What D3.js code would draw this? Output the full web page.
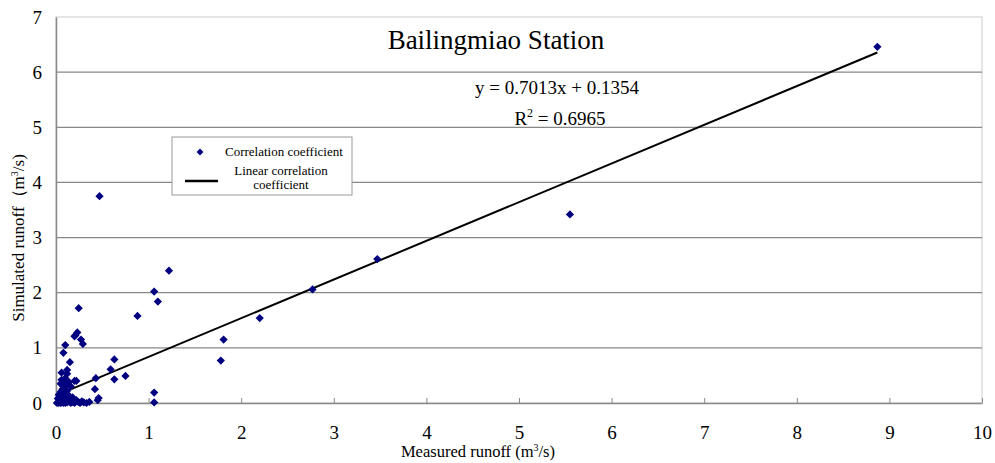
<!DOCTYPE html>
<html>
<head>
<meta charset="utf-8">
<script src="https://cdn.jsdelivr.net/npm/d3@7"></script>
<style>
	body{margin:0;background:#fff;}
	svg text{font-family:"Liberation Serif","Times New Roman","DejaVu Serif",serif;fill:#000;}
</style>
</head>
<body>
<svg id="chart" width="995" height="463"></svg>
<script>
// measured runoff (m3/s) and simulated runoff (m3/s)
var measured = [
	0.01,0.02,0.03,0.04,0.05,0.06,0.07,0.08,0.09,0.10,0.12,0.14,0.16,0.18,0.20,0.22,0.24,0.26,0.28,0.30,0.33,0.36,
	0.02,0.03,0.04,0.05,0.06,0.07,0.08,0.05,0.09,0.10,0.06,0.11,0.12,0.13,0.14,0.16,0.18,0.20,0.22,0.15,0.10,0.08,0.04,0.06,
	0.12,0.12,0.15,0.08,0.10,0.21,0.23,0.20,0.27,0.29,0.245,0.47,
	0.88,0.63,0.59,0.63,0.75,0.43,0.42,0.46,0.45,
	1.06,1.06,1.06,1.10,1.22,1.78,1.81,2.20,2.77,3.47,5.55,8.87
];
var simulated = [
	0.00,0.01,0.00,0.02,0.00,0.01,0.03,0.00,0.02,0.00,0.01,0.03,0.00,0.02,0.00,0.05,0.02,0.00,0.03,0.01,0.00,0.02,
	0.08,0.15,0.12,0.20,0.10,0.25,0.30,0.35,0.40,0.45,0.42,0.33,0.22,0.15,0.38,0.30,0.10,0.40,0.40,0.06,0.12,0.18,0.05,0.55,
	0.53,0.60,0.74,0.91,1.05,1.23,1.28,1.21,1.15,1.07,1.72,3.75,
	1.58,0.79,0.61,0.43,0.49,0.45,0.25,0.09,0.05,
	0.19,0.01,2.02,1.84,2.40,0.77,1.15,1.54,2.06,2.61,3.42,6.46
];
var xTicks = [0,1,2,3,4,5,6,7,8,9,10];
var yTicks = [0,1,2,3,4,5,6,7];
var slope = 0.7013, intercept = 0.1354;
var titleText = "Bailingmiao Station";
var legendLabels = ["Correlation coefficient", ["Linear correlation","coefficient"]];

var SERIF = '"Liberation Serif","Times New Roman","DejaVu Serif",serif';

function ScatterChart(containerId){
	var svg = d3.select(containerId);
	var left = 56, right = 982, top = 17, bottom = 403;

	var x = d3.scaleLinear().domain([0,10]).range([left,right]);
	var y = d3.scaleLinear().domain([0,7]).range([bottom,top]);

	var diamond = d3.symbol().type(d3.symbolSquare).size(34);

	function txt(sel,size){
		return sel.style("font-family",SERIF).style("font-size",size+"px");
	}

	function drawFrame(){
		// plot border
		svg.append("rect")
			.attr("x",left).attr("y",top)
			.attr("width",right-left).attr("height",bottom-top)
			.attr("fill","#fff").attr("stroke","#d4d4d4").attr("stroke-width",1.2);

		// horizontal gridlines
		svg.selectAll(".grid")
			.data(yTicks.filter(function(d){return d>0 && d<7;}))
			.enter()
				.append("line")
				.attr("class","grid")
				.attr("x1",left).attr("x2",right)
				.attr("y1",function(d){return y(d);})
				.attr("y2",function(d){return y(d);})
				.attr("stroke","#888").attr("stroke-width",1.2);

		var xAxis = d3.axisBottom(x).tickValues(xTicks).tickFormat(d3.format("d"))
			.tickSizeInner(-5).tickSizeOuter(0).tickPadding(23);
		var gx = svg.append("g").attr("transform","translate(0,"+bottom+")").call(xAxis);
		gx.attr("font-family",null);
		gx.select(".domain").attr("stroke","#888").attr("stroke-width",1.5);
		gx.selectAll(".tick line").attr("stroke","#888");
		txt(gx.selectAll("text"),19).attr("fill","#111");

		var yAxis = d3.axisLeft(y).tickValues(yTicks).tickFormat(d3.format("d")).tickSize(0).tickPadding(14);
		var gy = svg.append("g").attr("transform","translate("+left+",0)").call(yAxis);
		gy.attr("font-family",null);
		gy.select(".domain").attr("stroke","#888").attr("stroke-width",1.5);
		txt(gy.selectAll("text"),19).attr("fill","#111");
	}

	function drawPoints(){
		var pts = measured.map(function(m,i){return [m,simulated[i]];});
		svg.selectAll(".pt")
			.data(pts)
			.enter()
				.append("path")
				.attr("class","pt")
				.attr("d",diamond)
				.attr("fill","#000080")
				.attr("transform",function(d){return "translate("+x(d[0])+","+y(d[1])+") rotate(45)";});
	}

	function drawTrend(){
		var x0 = d3.min(measured), x1 = d3.max(measured);
		svg.append("line")
			.attr("x1",x(x0)).attr("y1",y(slope*x0+intercept))
			.attr("x2",x(x1)).attr("y2",y(slope*x1+intercept))
			.attr("stroke","#000").attr("stroke-width",2);
	}

	function drawTexts(){
		txt(svg.append("text"),27).attr("x",496).attr("y",49)
			.attr("text-anchor","middle").text(titleText);

		txt(svg.append("text"),19).attr("x",557).attr("y",94)
			.attr("text-anchor","middle")
			.text("y = "+slope.toFixed(4)+"x + "+intercept.toFixed(4));
		var r2 = txt(svg.append("text"),19).attr("x",560).attr("y",125)
			.attr("text-anchor","middle");
		r2.append("tspan").text("R");
		r2.append("tspan").attr("dy",-8).style("font-size","12px").text("2");
		r2.append("tspan").attr("dy",8).text(" = 0.6965");

		var xl = txt(svg.append("text"),16.5).attr("x",478).attr("y",457)
			.attr("text-anchor","middle");
		xl.append("tspan").text("Measured runoff (m");
		xl.append("tspan").attr("dy",-6).style("font-size","10px").text("3");
		xl.append("tspan").attr("dy",6).text("/s)");

		var yl = txt(svg.append("text"),17).attr("transform","translate(24,238) rotate(-90)")
			.attr("text-anchor","middle");
		yl.append("tspan").text("Simulated runoff（m");
		yl.append("tspan").attr("dy",-6).style("font-size","10px").text("3");
		yl.append("tspan").attr("dy",6).text("/s)");
	}

	function drawLegend(){
		var lg = svg.append("g").attr("transform","translate(172,137)");
		lg.append("rect").attr("width",180).attr("height",58)
			.attr("fill","#fff").attr("stroke","#9a9a9a").attr("stroke-width",1);
		lg.append("path").attr("d",d3.symbol().type(d3.symbolSquare).size(24))
			.attr("fill","#000080").attr("transform","translate(28,15) rotate(45)");
		txt(lg.append("text"),13).attr("x",53).attr("y",19).text(legendLabels[0]);
		lg.append("line").attr("x1",13).attr("x2",46).attr("y1",44).attr("y2",44)
			.attr("stroke","#000").attr("stroke-width",2.5);
		txt(lg.selectAll(".lgl")
			.data(legendLabels[1])
			.enter()
				.append("text")
				.attr("class","lgl")
				.attr("x",109)
				.attr("y",function(d,i){return 38+i*14;})
				.attr("text-anchor","middle"),13)
				.text(function(d){return d;});
	}

	drawFrame();
	drawTrend();
	drawPoints();
	drawTexts();
	drawLegend();
}

new ScatterChart("#chart");
</script>
</body>
</html>
